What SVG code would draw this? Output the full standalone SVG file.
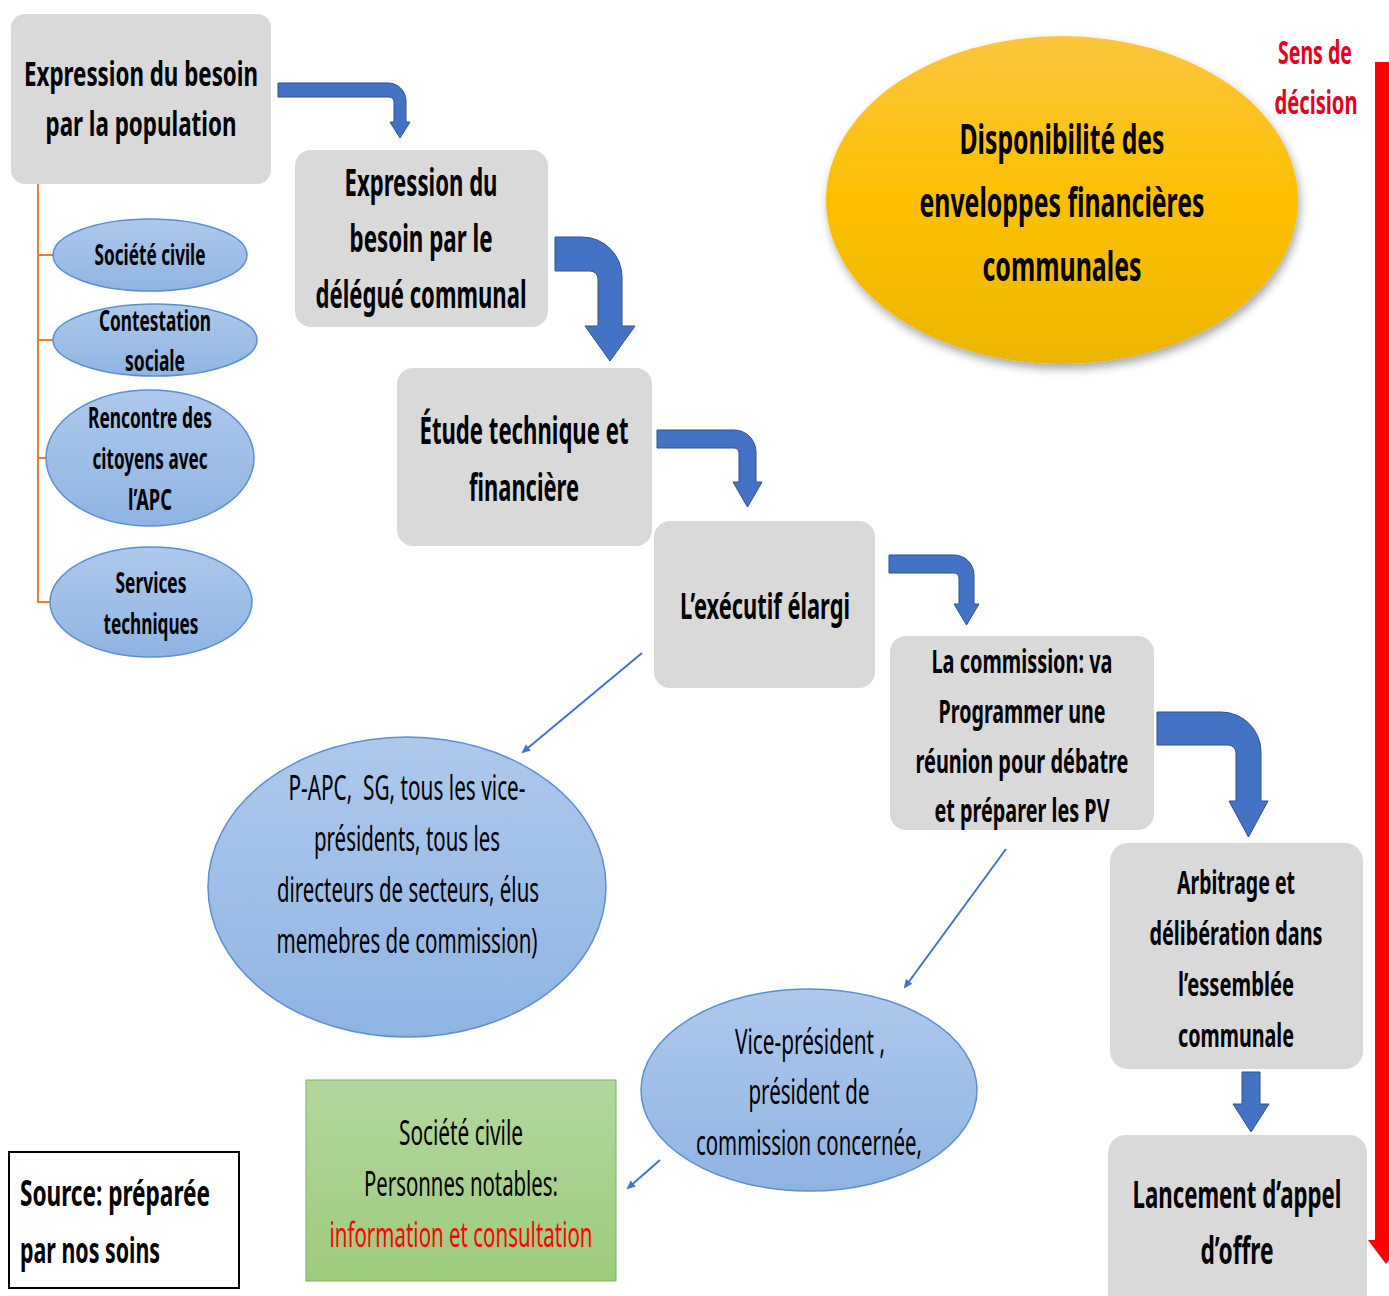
<svg xmlns="http://www.w3.org/2000/svg" width="1389" height="1296" viewBox="0 0 1389 1296">
<defs>
<style>
.t{font-family:"Noto Sans","Open Sans","Liberation Sans",sans-serif;fill:#000;text-anchor:middle;white-space:pre}
.b{font-weight:700}
.r{font-weight:400}
.box{fill:#d9d9d9}
.ell{fill:url(#gBlue);stroke:#5b8fd0;stroke-width:1.5}
.bent{fill:#4472c4;stroke:#2f528f;stroke-width:1}
.thin{stroke:#4472c4;stroke-width:2;fill:none;marker-end:url(#ah)}
.tree{stroke:#ed7d31;stroke-width:2;fill:none}
</style>
<linearGradient id="gBlue" x1="0" y1="0" x2="0" y2="1">
<stop offset="0" stop-color="#adc9ec"/>
<stop offset="1" stop-color="#8fb4e2"/>
</linearGradient>
<linearGradient id="gYellow" x1="0" y1="0" x2="0" y2="1">
<stop offset="0" stop-color="#fcc63e"/>
<stop offset="0.5" stop-color="#fdc000"/>
<stop offset="1" stop-color="#ebb600"/>
</linearGradient>
<linearGradient id="gGreen" x1="0" y1="0" x2="0" y2="1">
<stop offset="0" stop-color="#b3d79e"/>
<stop offset="1" stop-color="#9ccb7d"/>
</linearGradient>
<filter id="shadow" x="-20%" y="-20%" width="140%" height="140%">
<feGaussianBlur in="SourceAlpha" stdDeviation="5"/>
<feOffset dx="2" dy="5" result="o"/>
<feComponentTransfer><feFuncA type="linear" slope="0.35"/></feComponentTransfer>
<feMerge><feMergeNode/><feMergeNode in="SourceGraphic"/></feMerge>
</filter>
<marker id="ah" markerWidth="10" markerHeight="10" refX="7" refY="4" orient="auto" markerUnits="userSpaceOnUse">
<path d="M0,0 L9,4 L0,8 Z" fill="#4472c4"/>
</marker>
</defs>
<rect width="1389" height="1296" fill="#fff"/>

<g id="connectors">
<path class="tree" d="M38,184 V603 M38,255 H54 M38,340 H54 M38,458 H47 M38,602 H51"/>
<path class="bent" d="M278,83 H388 A18,18 0 0 1 406,101 V122 H410 L400,138 L390,122 H394 V102 A5,5 0 0 0 389,97 H278 Z"/>
<path class="bent" d="M555,237 H582 A40,40 0 0 1 622,277 V326 H635 L610,361 L585,326 H598 V279 A8,8 0 0 0 590,271 H555 Z"/>
<path class="bent" d="M657,430 H734 A22,22 0 0 1 756,452 V482 H762 L747.5,507 L733,482 H739 V453 A5,5 0 0 0 734,448 H657 Z"/>
<path class="bent" d="M889,555 H954 A20,20 0 0 1 974,575 V604 H979 L966.5,625 L954,604 H959 V578 A5,5 0 0 0 954,573 H889 Z"/>
<path class="bent" d="M1157,712 H1221 A40,40 0 0 1 1261,752 V801 H1268 L1248.5,837 L1229,801 H1236 V753 A8,8 0 0 0 1228,745 H1157 Z"/>
<path class="bent" d="M1242,1072 H1260 V1104 H1269 L1251,1132 L1233,1104 H1242 Z"/>
<line class="thin" x1="642" y1="653" x2="523" y2="752"/>
<line class="thin" x1="1006" y1="849" x2="905" y2="987"/>
<line class="thin" x1="660" y1="1160" x2="628" y2="1188"/>
<path d="M1375,62 H1396 V1240 H1404 L1386,1264 L1368,1240 H1375 Z" fill="#ff0000"/>
</g>

<g id="n-pop">
<rect class="box" x="11" y="14" width="260" height="170" rx="14"/>
<text class="t b" font-size="34" x="141" y="86" textLength="234" lengthAdjust="spacingAndGlyphs">Expression du besoin</text>
<text class="t b" font-size="34" x="141" y="136" textLength="191" lengthAdjust="spacingAndGlyphs">par la population</text>
</g>

<g id="n-societe">
<ellipse class="ell" cx="150" cy="255" rx="97" ry="36"/>
<text class="t b" font-size="28" x="150" y="265" textLength="111" lengthAdjust="spacingAndGlyphs">Société civile</text>
</g>
<g id="n-contestation">
<ellipse class="ell" cx="155" cy="340" rx="102" ry="36"/>
<text class="t b" font-size="28" x="155" y="331" textLength="112" lengthAdjust="spacingAndGlyphs">Contestation</text>
<text class="t b" font-size="28" x="155" y="371" textLength="60" lengthAdjust="spacingAndGlyphs">sociale</text>
</g>
<g id="n-rencontre">
<ellipse class="ell" cx="150" cy="458" rx="104" ry="68"/>
<text class="t b" font-size="28" x="150" y="428" textLength="124" lengthAdjust="spacingAndGlyphs">Rencontre des</text>
<text class="t b" font-size="28" x="150" y="469" textLength="115" lengthAdjust="spacingAndGlyphs">citoyens avec</text>
<text class="t b" font-size="28" x="150" y="510" textLength="44" lengthAdjust="spacingAndGlyphs">l’APC</text>
</g>
<g id="n-services">
<ellipse class="ell" cx="151" cy="602" rx="101" ry="55"/>
<text class="t b" font-size="28" x="151" y="593" textLength="71" lengthAdjust="spacingAndGlyphs">Services</text>
<text class="t b" font-size="28" x="151" y="634" textLength="95" lengthAdjust="spacingAndGlyphs">techniques</text>
</g>

<g id="n-delegue">
<rect class="box" x="295" y="150" width="253" height="177" rx="16"/>
<text class="t b" font-size="38" x="421" y="196" textLength="153" lengthAdjust="spacingAndGlyphs">Expression du</text>
<text class="t b" font-size="38" x="421" y="252" textLength="143" lengthAdjust="spacingAndGlyphs">besoin par le</text>
<text class="t b" font-size="38" x="421" y="308" textLength="211" lengthAdjust="spacingAndGlyphs">délégué communal</text>
</g>

<g id="n-etude">
<rect class="box" x="397" y="368" width="255" height="178" rx="16"/>
<text class="t b" font-size="38" x="524" y="444" textLength="209" lengthAdjust="spacingAndGlyphs">Étude technique et</text>
<text class="t b" font-size="38" x="524" y="501" textLength="110" lengthAdjust="spacingAndGlyphs">financière</text>
</g>

<g id="n-executif">
<rect class="box" x="654" y="521" width="221" height="167" rx="16"/>
<text class="t b" font-size="36" x="765" y="619" textLength="170" lengthAdjust="spacingAndGlyphs">L’exécutif élargi</text>
</g>

<g id="n-commission">
<rect class="box" x="890" y="636" width="264" height="194" rx="16"/>
<text class="t b" font-size="33" x="1022" y="673" textLength="181" lengthAdjust="spacingAndGlyphs">La commission: va</text>
<text class="t b" font-size="33" x="1022" y="723" textLength="167" lengthAdjust="spacingAndGlyphs">Programmer une</text>
<text class="t b" font-size="33" x="1022" y="773" textLength="213" lengthAdjust="spacingAndGlyphs">réunion pour débatre</text>
<text class="t b" font-size="33" x="1022" y="822" textLength="175" lengthAdjust="spacingAndGlyphs">et préparer les PV</text>
</g>

<g id="n-arbitrage">
<rect class="box" x="1110" y="843" width="253" height="226" rx="18"/>
<text class="t b" font-size="33" x="1236" y="894" textLength="118" lengthAdjust="spacingAndGlyphs">Arbitrage et</text>
<text class="t b" font-size="33" x="1236" y="945" textLength="173" lengthAdjust="spacingAndGlyphs">délibération dans</text>
<text class="t b" font-size="33" x="1236" y="996" textLength="116" lengthAdjust="spacingAndGlyphs">l’essemblée</text>
<text class="t b" font-size="33" x="1236" y="1047" textLength="116" lengthAdjust="spacingAndGlyphs">communale</text>
</g>

<g id="n-lancement">
<rect class="box" x="1108" y="1135" width="259" height="190" rx="18"/>
<text class="t b" font-size="38" x="1237" y="1208" textLength="209" lengthAdjust="spacingAndGlyphs">Lancement d’appel</text>
<text class="t b" font-size="38" x="1237" y="1264" textLength="73" lengthAdjust="spacingAndGlyphs">d’offre</text>
</g>

<g id="n-disponibilite">
<ellipse cx="1062" cy="200" rx="236" ry="164" fill="url(#gYellow)" filter="url(#shadow)"/>
<text class="t b" font-size="42" x="1062" y="154" textLength="205" lengthAdjust="spacingAndGlyphs">Disponibilité des</text>
<text class="t b" font-size="42" x="1062" y="217" textLength="285" lengthAdjust="spacingAndGlyphs">enveloppes financières</text>
<text class="t b" font-size="42" x="1062" y="281" textLength="159" lengthAdjust="spacingAndGlyphs">communales</text>
</g>

<g id="n-sens">
<text class="t b" font-size="32" x="1315" y="64" style="fill:#e3001b" textLength="74" lengthAdjust="spacingAndGlyphs">Sens de</text>
<text class="t b" font-size="32" x="1316" y="114" style="fill:#e3001b" textLength="83" lengthAdjust="spacingAndGlyphs">décision</text>
</g>

<g id="n-papc">
<ellipse class="ell" cx="407" cy="887" rx="199" ry="150"/>
<text class="t r" font-size="34" x="407" y="800" textLength="237" lengthAdjust="spacingAndGlyphs">P-APC,  SG, tous les vice-</text>
<text class="t r" font-size="34" x="407" y="851" textLength="186" lengthAdjust="spacingAndGlyphs">présidents, tous les</text>
<text class="t r" font-size="34" x="408" y="902" textLength="262" lengthAdjust="spacingAndGlyphs">directeurs de secteurs, élus</text>
<text class="t r" font-size="34" x="407" y="953" textLength="261" lengthAdjust="spacingAndGlyphs">memebres de commission)</text>
</g>

<g id="n-vice">
<ellipse class="ell" cx="809" cy="1090" rx="168" ry="101"/>
<text class="t r" font-size="34" x="810" y="1054" textLength="150" lengthAdjust="spacingAndGlyphs">Vice-président ,</text>
<text class="t r" font-size="34" x="809" y="1104" textLength="121" lengthAdjust="spacingAndGlyphs">président de</text>
<text class="t r" font-size="34" x="809" y="1155" textLength="226" lengthAdjust="spacingAndGlyphs">commission concernée,</text>
</g>

<g id="n-notables">
<rect x="306" y="1080" width="310" height="201" fill="url(#gGreen)" stroke="#7fb35c" stroke-width="1"/>
<text class="t r" font-size="34" x="461" y="1145" textLength="124" lengthAdjust="spacingAndGlyphs">Société civile</text>
<text class="t r" font-size="34" x="461" y="1196" textLength="194" lengthAdjust="spacingAndGlyphs">Personnes notables:</text>
<text class="t r" font-size="34" x="461" y="1247" style="fill:#ff0000" textLength="263" lengthAdjust="spacingAndGlyphs">information et consultation</text>
</g>

<g id="n-source">
<rect x="9" y="1152" width="230" height="136" fill="#fff" stroke="#000" stroke-width="2"/>
<text class="t b" font-size="36" x="20" y="1206" style="text-anchor:start" textLength="190" lengthAdjust="spacingAndGlyphs">Source: préparée</text>
<text class="t b" font-size="36" x="20" y="1263" style="text-anchor:start" textLength="140" lengthAdjust="spacingAndGlyphs">par nos soins</text>
</g>
</svg>
